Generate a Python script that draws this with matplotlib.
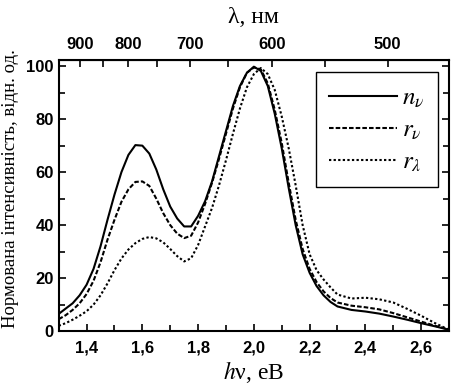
import numpy as np
import matplotlib
matplotlib.use('Agg')
import matplotlib.pyplot as plt
from matplotlib.ticker import MultipleLocator, FixedLocator, FuncFormatter

plt.rcParams['mathtext.fontset'] = 'stix'
plt.rcParams['font.family'] = 'Liberation Sans'

# photon energy, eV
energy = [1.300, 1.325, 1.350, 1.375, 1.400, 1.425, 1.450, 1.475, 1.500, 1.525,
          1.550, 1.575, 1.600, 1.625, 1.650, 1.675, 1.700, 1.725, 1.750, 1.775,
          1.800, 1.825, 1.850, 1.875, 1.900, 1.925, 1.950, 1.975, 2.000, 2.025,
          2.050, 2.075, 2.100, 2.125, 2.150, 2.175, 2.200, 2.225, 2.250, 2.275,
          2.300, 2.350, 2.400, 2.450, 2.500, 2.550, 2.600, 2.650, 2.700]

n_nu = [6.5, 8.5, 10.5, 13.5, 17.5, 23.5, 32, 42, 51.5, 60,
        66.5, 70.2, 70.0, 67, 61, 53.5, 47, 42.5, 39.5, 39.5,
        43.5, 49, 56.5, 66, 75.5, 85, 92.5, 97.5, 99.8, 98.2,
        92.5, 82, 69, 54, 40, 29, 22, 17, 13.5, 11,
        9.3, 8.0, 7.4, 6.6, 5.5, 4.3, 3.0, 1.8, 0.5]

r_nu = [4.5, 6, 8, 10.5, 14, 19, 26, 34.5, 42, 48.8,
        53.5, 56.3, 56.5, 54.8, 50, 44.5, 40, 36.8, 35.1, 36,
        41, 48, 56, 65, 74.5, 84, 92, 97.5, 99.5, 98.8,
        93.5, 83.5, 71, 56, 42, 31, 23.5, 18.5, 15, 12.5,
        10.8, 9.6, 9.0, 8.2, 6.8, 5.2, 3.6, 2.0, 0.6]

r_lam = [2, 3, 4.3, 5.8, 7.5, 10, 13.5, 18, 23, 27.4,
         30.8, 33.2, 34.8, 35.5, 35, 33.5, 31, 28.3, 26.3, 27.5,
         32.5, 39.5, 46.5, 55, 64.5, 74.5, 84, 92, 97, 99.3,
         97, 91, 81, 69, 55, 40, 29, 23, 19.5, 16.5,
         13.8, 12.3, 12.6, 12, 10.8, 8.4, 5.8, 3, 0.5]

lam_ticks = [900, 800, 700, 600, 500]
lam_minor = [850, 750, 650, 550]

fig = plt.figure(figsize=(4.53, 3.90), dpi=100)
ax = fig.add_axes([0.1296, 0.151, 0.8616, 0.695])

ax.plot(energy, n_nu, color='black', lw=1.5, ls='-', label=r'$n_\nu$')
ax.plot(energy, r_nu, color='black', lw=1.5, ls=(0, (2.2, 1.0)), label=r'$r_\nu$')
ax.plot(energy, r_lam, color='black', lw=1.5, ls=(0, (1.1, 1.1)), label=r'$r_\lambda$')

ax.set_xlim(1.3, 2.7)
ax.set_ylim(0, 102.3)
ax.xaxis.set_major_locator(MultipleLocator(0.2))
ax.xaxis.set_minor_locator(MultipleLocator(0.1))
ax.yaxis.set_major_locator(MultipleLocator(20))
ax.yaxis.set_minor_locator(MultipleLocator(10))
ax.xaxis.set_major_formatter(FuncFormatter(lambda v, p: f'{v:.1f}'.replace('.', ',')))
ax.tick_params(which='both', direction='in', right=True, width=1.2, labelsize=12)
ax.tick_params(which='major', length=5)
ax.tick_params(which='minor', length=4)
ax.tick_params(axis='x', pad=7)
for s in ax.spines.values():
    s.set_linewidth(1.5)

conv = lambda x: 1239.84 / np.asarray(x, dtype=float)
sec = ax.secondary_xaxis('top', functions=(conv, conv))
sec.xaxis.set_major_locator(FixedLocator(lam_ticks))
sec.xaxis.set_minor_locator(FixedLocator(lam_minor))
sec.tick_params(which='both', direction='in', width=1.2, labelsize=12, pad=6)
sec.tick_params(which='major', length=5)
sec.tick_params(which='minor', length=5)
sec.set_xlabel('λ, нм', family='Liberation Serif', fontsize=17, labelpad=10)

for lbl in ax.get_xticklabels() + ax.get_yticklabels() + sec.get_xticklabels():
    lbl.set_fontweight('bold')

ax.set_xlabel(r'$h$ν, еВ', family='Liberation Serif', fontsize=17, labelpad=2)
fig.text(0.004, 0.517, 'Нормована інтенсивність, відн. од.', family='Liberation Serif',
         fontsize=13.5, rotation=90, ha='left', va='center')

leg = ax.legend(loc='upper right', bbox_to_anchor=(0.972, 0.956), borderaxespad=0,
                fontsize=18, handlelength=2.7, labelspacing=0.3, borderpad=0.55,
                handletextpad=0.2, fancybox=False, edgecolor='black', framealpha=1)
leg.get_frame().set_linewidth(1.0)

fig.savefig('out.png', dpi=100)
